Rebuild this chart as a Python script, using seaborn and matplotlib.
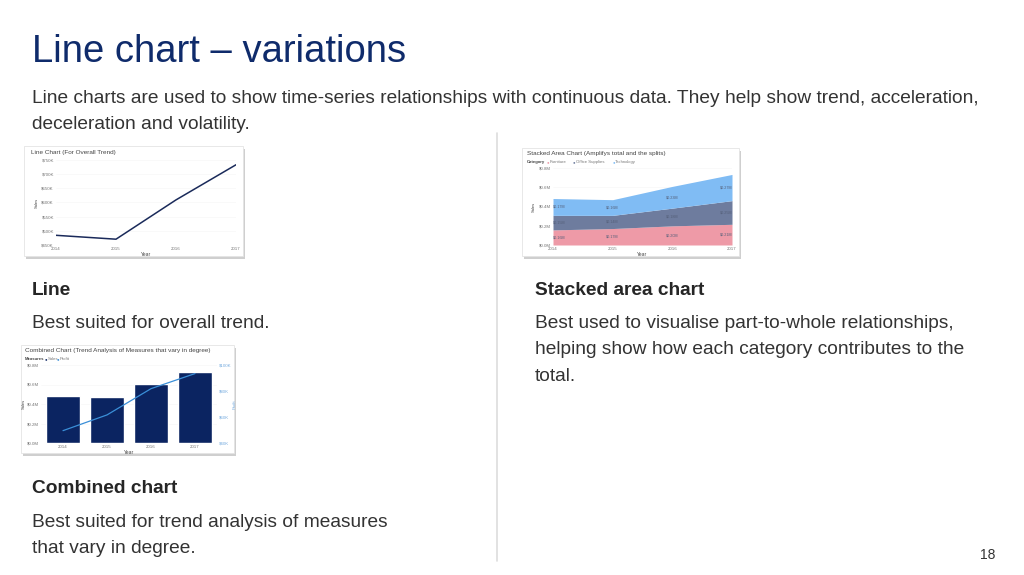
import matplotlib
matplotlib.use("Agg")
import matplotlib.pyplot as plt
import matplotlib.patches as mpatches
import matplotlib.ticker as mticker
import seaborn as sns
import pandas as pd

sns.set_theme(style="white")
plt.rcParams["font.family"] = ["Liberation Sans", "DejaVu Sans"]

# data
years = [2014, 2015, 2016, 2017]
sales_k = [484.2, 470.5, 609.2, 733.2]          # total sales, $K
furniture_m = [0.157, 0.171, 0.199, 0.215]      # $M
office_m = [0.151, 0.137, 0.184, 0.246]
technology_m = [0.175, 0.163, 0.226, 0.272]
profit_k = [49.5, 61.6, 81.8, 93.4]

W, H = 1024, 575
fig = plt.figure(figsize=(W / 100, H / 100), dpi=100)
fig.patch.set_facecolor("white")


def fx(x):
    return x / W


def fy(y):
    return 1 - y / H


def ax_px(x0, y0, x1, y1, **kw):
    return fig.add_axes([fx(x0), fy(y1), (x1 - x0) / W, (y1 - y0) / H], **kw)


def card(x0, y0, x1, y1):
    # shadow + white card
    fig.patches.append(mpatches.Rectangle((fx(x0 + 2), fy(y1 + 3)), (x1 - x0) / W, (y1 - y0) / H,
                                          transform=fig.transFigure, facecolor="#cfcfcf",
                                          edgecolor="none", zorder=-3))
    fig.patches.append(mpatches.Rectangle((fx(x0), fy(y1)), (x1 - x0) / W, (y1 - y0) / H,
                                          transform=fig.transFigure, facecolor="white",
                                          edgecolor="#e4e4e4", lw=0.6, zorder=-2))


def thumb_style(ax):
    ax.set_facecolor("none")
    for s in ax.spines.values():
        s.set_visible(False)
    ax.tick_params(axis="both", labelsize=3.2, length=0, pad=1.5, colors="#777777")
    ax.grid(axis="y", color="#f5f5f5", lw=0.4)
    ax.set_axisbelow(True)


TXT = "#333333"
NAVY = "#0F2B6B"
FS = 13.8

# slide texts
fig.text(fx(32), fy(62), "Line chart \u2013 variations", fontsize=27.5, color=NAVY, va="baseline")
fig.text(fx(32), fy(103), "Line charts are used to show time-series relationships with continuous data. "
         "They help show trend, acceleration,", fontsize=FS, color=TXT, va="baseline")
fig.text(fx(32), fy(129), "deceleration and volatility.", fontsize=FS, color=TXT, va="baseline")

fig.text(fx(32), fy(295), "Line", fontsize=FS, color="#262626", weight="bold", va="baseline")
fig.text(fx(32), fy(328), "Best suited for overall trend.", fontsize=FS, color=TXT, va="baseline")

fig.text(fx(535), fy(295), "Stacked area chart", fontsize=FS, color="#262626", weight="bold", va="baseline")
for i, line in enumerate(["Best used to visualise part-to-whole relationships,",
                          "helping show how each category contributes to the",
                          "total."]):
    fig.text(fx(535), fy(328 + 26.4 * i), line, fontsize=FS, color=TXT, va="baseline")

fig.text(fx(32), fy(493), "Combined chart", fontsize=FS, color="#262626", weight="bold", va="baseline")
fig.text(fx(32), fy(527), "Best suited for trend analysis of measures", fontsize=FS, color=TXT, va="baseline")
fig.text(fx(32), fy(553), "that vary in degree.", fontsize=FS, color=TXT, va="baseline")

fig.text(fx(995), fy(559), "18", fontsize=10, color=TXT, ha="right", va="baseline")

# divider
fig.add_artist(plt.Line2D([fx(497), fx(497)], [fy(133), fy(561)], transform=fig.transFigure,
                          color="#dddddd", lw=1.2))

# ---- thumbnail 1: line chart
card(24, 146, 243, 256)
fig.text(fx(31), fy(154), "Line Chart (For Overall Trend)", fontsize=4.6, color="#444444")
df_line = pd.DataFrame({"Year": years, "Sales": sales_k})
ax1 = ax_px(56, 160, 236, 245)
sns.lineplot(data=df_line, x="Year", y="Sales", ax=ax1, color="#1a2a5a", lw=1.1)
ax1.set_xlim(2014, 2017)
ax1.set_ylim(450, 750)
ax1.set_xticks(years)
ax1.set_yticks(range(450, 751, 50))
ax1.yaxis.set_major_formatter(mticker.FuncFormatter(lambda v, p: f"${v:.0f}K"))
thumb_style(ax1)
ax1.set_xlabel("Year", fontsize=3.6, labelpad=0.5, color="#444444")
ax1.set_ylabel("Sales", fontsize=3, labelpad=2, color="#444444")

# ---- thumbnail 2: stacked area chart
card(522, 148, 739, 256)
fig.text(fx(527), fy(155), "Stacked Area Chart (Amplifys total and the splits)", fontsize=4.6, color="#444444")
cat_names = ["Furniture", "Office Supplies", "Technology"]
cat_colors = ["#EE9AA7", "#6E7C9E", "#80BCF4"]
fig.text(fx(527), fy(163), "Category", fontsize=3.1, color="#444444", weight="bold")
lx = 547
for name, c in zip(cat_names, cat_colors):
    fig.text(fx(lx), fy(163), "\u25CF", fontsize=3.1, color=c)
    fig.text(fx(lx + 3), fy(163), name, fontsize=3.1, color="#777777")
    lx += 3 + len(name) * 2.3 + 2
df_area = pd.DataFrame({"Year": years, "Furniture": furniture_m,
                        "Office Supplies": office_m, "Technology": technology_m})
ax2 = ax_px(553, 168, 732, 245)
ax2.stackplot(df_area["Year"], df_area["Furniture"], df_area["Office Supplies"], df_area["Technology"],
              colors=cat_colors, lw=0)
ax2.set_xlim(2014, 2017)
ax2.set_ylim(0, 0.8)
ax2.set_xticks(years)
ax2.set_yticks([0, 0.2, 0.4, 0.6, 0.8])
ax2.yaxis.set_major_formatter(mticker.FuncFormatter(lambda v, p: f"${v:.1f}M"))
thumb_style(ax2)
ax2.set_xlabel("Year", fontsize=3.6, labelpad=0.5, color="#444444")
ax2.set_ylabel("Sales", fontsize=3, labelpad=2, color="#444444")
for i, yr in enumerate(years):
    base = 0
    ha = "left" if i == 0 else ("right" if i == len(years) - 1 else "center")
    for col in cat_names:
        v = df_area[col][i]
        ax2.text(yr, base + v / 2, f"${v:.2f}M", fontsize=2.7, color="#55607a", ha=ha, va="center")
        base += v

# ---- thumbnail 3: combined chart
card(21, 345, 234, 453)
fig.text(fx(25), fy(352), "Combined Chart (Trend Analysis of Measures that vary in degree)", fontsize=4.6,
         color="#444444")
fig.text(fx(25), fy(360), "Measures", fontsize=3.1, color="#444444", weight="bold")
fig.text(fx(45), fy(360), "\u25CF", fontsize=3.1, color="#0B2461")
fig.text(fx(48), fy(360), "Sales", fontsize=3.1, color="#777777")
fig.text(fx(57), fy(360), "\u25CF", fontsize=3.1, color="#3A8FD8")
fig.text(fx(60), fy(360), "Profit", fontsize=3.1, color="#777777")
df_comb = pd.DataFrame({"Year": [str(y) for y in years], "Sales": [s / 1000 for s in sales_k],
                        "Profit": profit_k})
ax3 = ax_px(41, 365, 217, 443)
sns.barplot(data=df_comb, x="Year", y="Sales", ax=ax3, color="#0B2461", width=0.77, saturation=1)
ax3.set_ylim(0, 0.8)
ax3.set_yticks([0, 0.2, 0.4, 0.6, 0.8])
ax3.yaxis.set_major_formatter(mticker.FuncFormatter(lambda v, p: f"${v:.1f}M"))
thumb_style(ax3)
ax3.set_xlabel("Year", fontsize=3.6, labelpad=0.5, color="#444444")
ax3.set_ylabel("Sales", fontsize=3, labelpad=0.5, color="#444444")
ax3b = ax3.twinx()
sns.lineplot(data=df_comb, x="Year", y="Profit", ax=ax3b, color="#3A8FD8", lw=0.9, sort=False)
ax3.set_xlim(-0.5, 3.5)
ax3b.set_ylim(40, 100)
ax3b.set_yticks([40, 60, 80, 100])
ax3b.yaxis.set_major_formatter(mticker.FuncFormatter(lambda v, p: f"${v:.0f}K"))
for s in ax3b.spines.values():
    s.set_visible(False)
ax3b.tick_params(axis="y", labelsize=3.2, length=0, pad=1.5, colors="#7aaee0")
ax3b.set_ylabel("Profit", fontsize=3, labelpad=1, color="#7aaee0")
ax3b.grid(False)

fig.savefig("out.png", dpi=100)
